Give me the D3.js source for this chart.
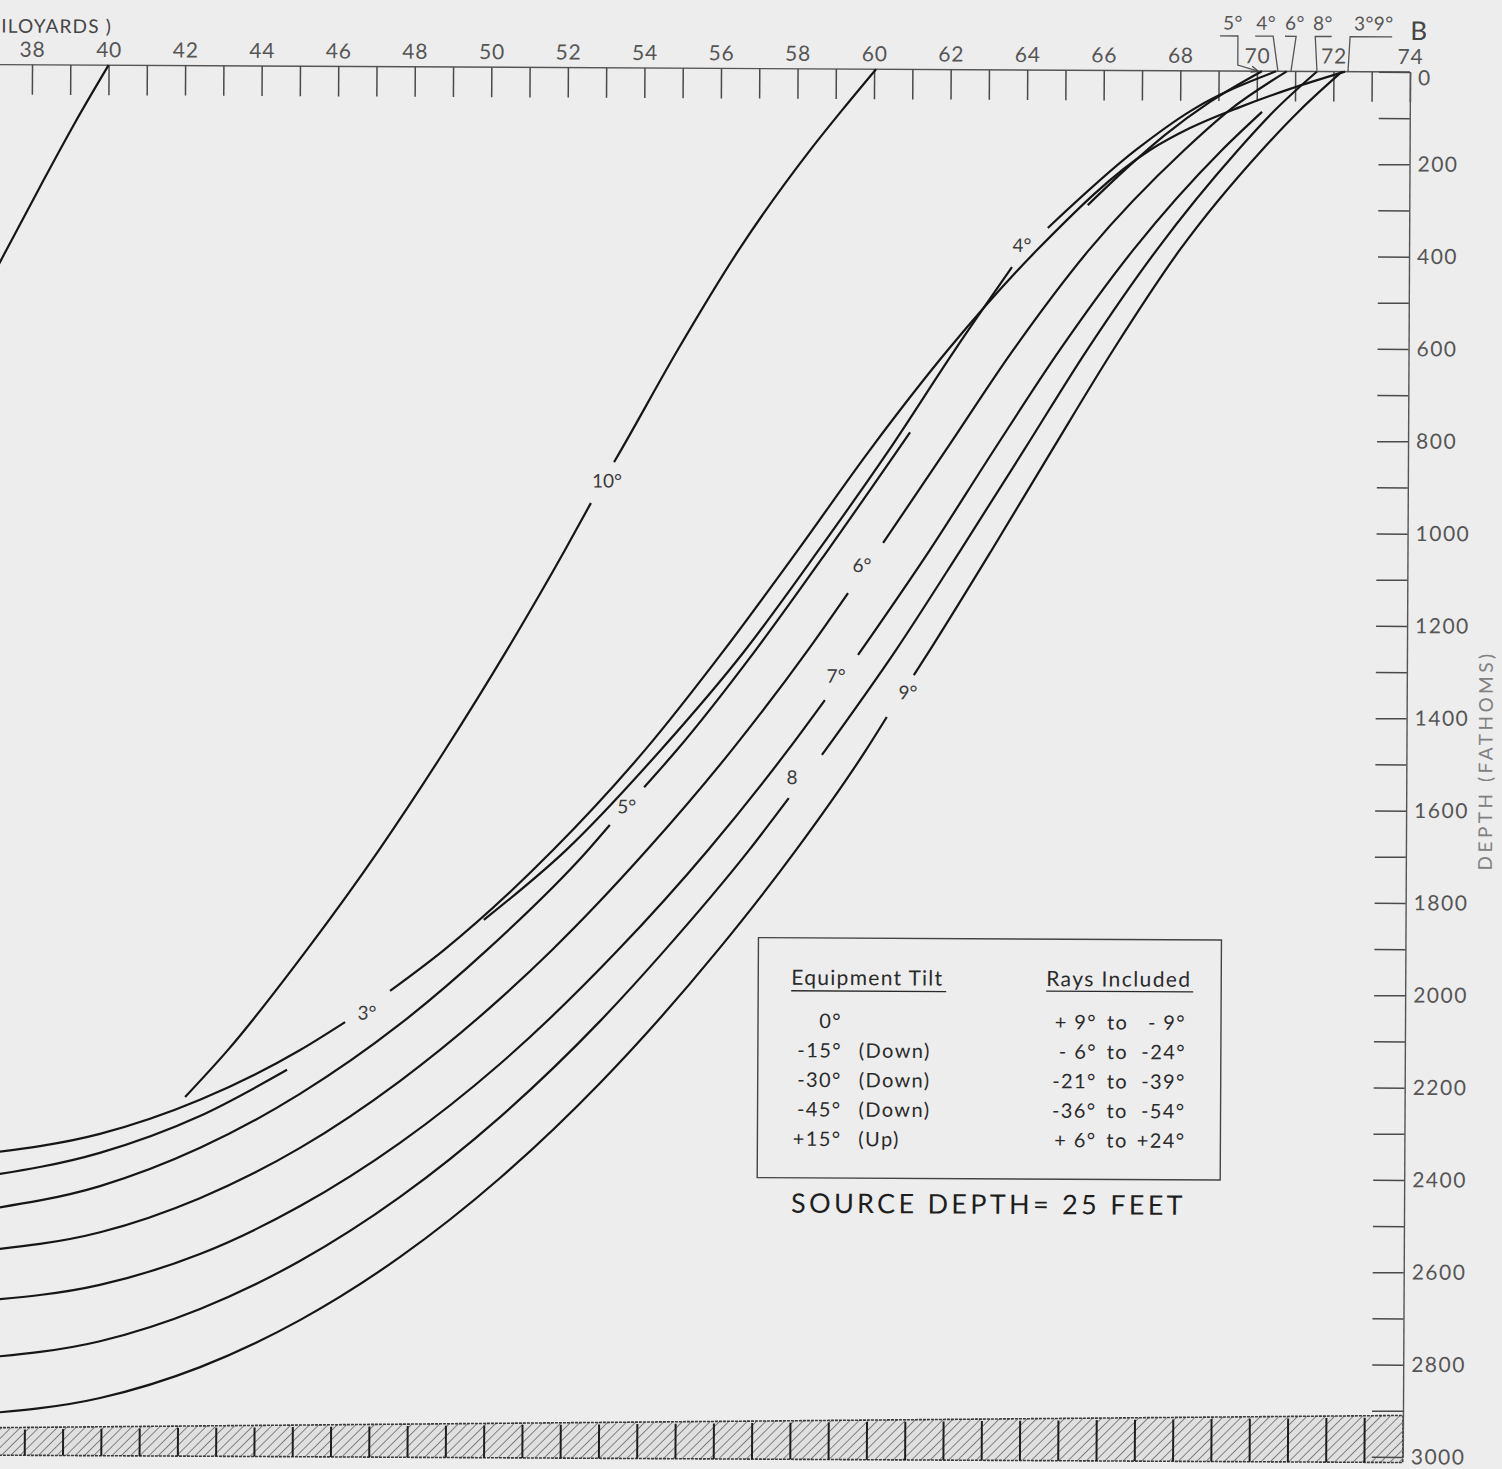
<!DOCTYPE html>
<html>
<head>
<meta charset="utf-8">
<script src="https://cdn.jsdelivr.net/npm/d3@7"></script>
<style>
body { margin: 0; background: #ededed; }
svg { display: block; }
text { font-family: Lato, "DejaVu Sans", sans-serif; }
</style>
</head>
<body>
<script>
//axis ticks
var kydTicks = d3.range(38, 75);            //range, kiloyards
var depthTicks = d3.range(0, 3001, 100);    //depth, fathoms

//ray segments as [range kyd, depth fathoms], gaps left where labels sit
var ray40 = [[40.0,0],[39.13,125],[38.22,265],[37.27,415],[36.93,470]];
var ray10Upper = [[60.05,0],[59.17,89],[58.34,176],[56.49,393],[54.91,610],[53.44,828],[53.26,854]];
var ray10Lower = [[52.66,943],[51.99,1045],[50.49,1262],[48.88,1480],[47.17,1697],[45.30,1914],[43.25,2132],[42.14,2234]];
var ray3Lower = [[36.79,2360],[39.92,2315],[42.53,2240],[45.14,2131],[46.31,2070]];
var ray3Upper = [[47.48,2002],[48.88,1913],[51.72,1695],[54.11,1477],[56.16,1260],[58.08,1042],[59.94,825],[61.97,607],[64.28,390],[67.22,172],[68.26,124],[69.56,78],[70.87,38],[72.30,0]];
var ray4Lower = [[36.79,2410],[39.92,2356],[42.53,2275],[44.80,2174]];
var ray4Mid = [[49.92,1847],[52.06,1695],[54.52,1477],[56.71,1260],[58.62,1042],[60.44,825],[62.15,607],[63.63,427]];
var ray4Upper = [[64.56,342],[66.85,172],[68.31,85],[70.50,0]];
var ray5Lower = [[36.80,2482],[39.93,2428],[42.54,2344],[45.14,2226],[47.74,2074],[50.01,1912],[52.63,1695],[53.20,1640]];
var ray5Mid = [[54.09,1558],[54.94,1477],[56.99,1259],[58.86,1042],[60.99,786]];
var ray5Upper = [[65.60,292],[66.70,205],[67.61,139],[68.78,67],[70.13,0]];
var ray6Lower = [[36.80,2570],[39.94,2528],[42.54,2453],[45.15,2343],[47.75,2197],[50.35,2018],[51.70,1912],[54.17,1694],[56.38,1476],[58.35,1259],[59.39,1135]];
var ray6Upper = [[60.30,1026],[61.93,824],[63.67,607],[65.64,389],[68.11,172],[69.30,84],[70.78,0]];
var ray7Lower = [[36.81,2678],[39.94,2642],[42.55,2574],[45.16,2469],[47.76,2331],[50.36,2159],[53.43,1911],[55.77,1693],[57.84,1476],[58.80,1367]];
var ray7Upper = [[59.66,1269],[61.52,1041],[63.18,824],[64.89,606],[66.79,389],[69.10,171],[70.14,88]];
var ray8Lower = [[36.82,2802],[39.95,2764],[42.56,2693],[45.16,2588],[47.77,2448],[50.37,2274],[52.97,2065],[54.66,1910],[56.84,1693],[57.87,1580]];
var ray8Upper = [[58.73,1486],[60.65,1258],[62.33,1040],[63.97,823],[65.60,606],[67.41,388],[69.52,171],[70.48,84],[71.57,0]];
var ray9Lower = [[36.83,2923],[39.96,2887],[42.57,2819],[45.17,2716],[47.78,2578],[50.38,2406],[52.98,2199],[56.04,1910],[58.07,1692],[59.88,1475],[60.42,1403]];
var ray9Upper = [[61.12,1312],[61.54,1257],[63.14,1040],[64.70,823],[66.28,606],[68.01,388],[70.14,171],[71.13,84],[72.22,0]];

var raySegments = [ray40, ray10Upper, ray10Lower, ray3Lower, ray3Upper, ray4Lower, ray4Mid, ray4Upper,
	ray5Lower, ray5Mid, ray5Upper, ray6Lower, ray6Upper, ray7Lower, ray7Upper,
	ray8Lower, ray8Upper, ray9Lower, ray9Upper];

//ray angle labels in the gaps
var rayLabels = ["10°", "3°", "5°", "8", "7°", "9°", "6°", "4°"];
var rayLabelKyd = [53.08, 46.88, 53.64, 57.95, 59.09, 60.97, 59.75, 63.89];
var rayLabelDepth = [895, 2050, 1600, 1535, 1315, 1350, 1075, 380];

//surface arrival labels above the range scale
var arrivalLabels = ["5°", "4°", "6°", "8°", "3°9°"];
var arrivalLabelKyd = [69.37, 70.24, 70.99, 71.72, 73.05];
var arrivalLeaders = [
	[[69.03,-76],[69.50,-76],[69.50,-13],[70.03,0]],
	[[69.95,-76],[70.42,-76],[70.55,0]],
	[[70.73,-76],[71.02,-76],[70.89,0]],
	[[71.95,-76],[71.52,-76],[71.57,0]],
	[[73.53,-76],[72.43,-76],[72.38,0]]
];

//ocean bottom
var bottomKyd = [36.8, 74];
var bottomDepth = [2953, 2910];

//legend table
var tiltAngles = ["0°", "-15°", "-30°", "-45°", "+15°"];
var tiltDirs = ["", "(Down)", "(Down)", "(Down)", "(Up)"];
var rayFrom = ["+ 9°", "- 6°", "-21°", "-36°", "+ 6°"];
var rayTo = ["- 9°", "-24°", "-39°", "-54°", "+24°"];

var width = 1502, height = 1469;

var svg = d3.select("body").append("svg")
	.attr("width", width)
	.attr("height", height);

svg.append("rect").attr("width", width).attr("height", height).attr("fill", "#ededed");

var defs = svg.append("defs");

//hatch for the bottom
var pat = defs.append("pattern")
	.attr("id", "hatch")
	.attr("patternUnits", "userSpaceOnUse")
	.attr("width", 6.5).attr("height", 6.5)
	.attr("patternTransform", "rotate(45)");
pat.append("rect").attr("width", 6.5).attr("height", 6.5).attr("fill", "#e0e0e0");
pat.append("line").attr("x1", 0).attr("y1", 0).attr("x2", 0).attr("y2", 6.5)
	.attr("stroke", "#6a6a6a").attr("stroke-width", 1.6);

defs.append("marker")
	.attr("id", "arrow")
	.attr("viewBox", "0 0 10 10")
	.attr("refX", 9).attr("refY", 5)
	.attr("markerWidth", 6).attr("markerHeight", 6)
	.attr("orient", "auto")
	.append("path")
	.attr("d", "M0,1L10,5L0,9")
	.attr("fill", "none")
	.attr("stroke", "#444")
	.attr("stroke-width", 1.5);

var x = d3.scaleLinear().domain([38, 74]).range([32, 1410]);
var y = d3.scaleLinear().domain([0, 3000]).range([72, 1457]);

//whole sheet sits slightly tilted in the photo
var chart = svg.append("g").attr("transform", "rotate(0.3,1410,72)");

//bottom band
var bottomTop = bottomKyd.map(function(k, i){ return [x(k), y(bottomDepth[i])]; });
var band = bottomTop.concat([[x(74), y(3012)], [x(36.8), y(3012)]]);
chart.append("path")
	.attr("d", "M" + band.join("L") + "Z")
	.attr("fill", "url(#hatch)")
	.attr("stroke", "#3a3a3a")
	.attr("stroke-width", 1.6)
	.attr("stroke-dasharray", "3,1");

var bottomAt = d3.scaleLinear().domain(bottomKyd).range(bottomDepth);
chart.selectAll(".bottomTick")
	.data(d3.range(38, 74))
	.enter()
	.append("line")
	.attr("class", "bottomTick")
	.attr("x1", function(d){ return x(d); })
	.attr("x2", function(d){ return x(d); })
	.attr("y1", function(d){ return y(bottomAt(d)) + 2; })
	.attr("y2", y(3012))
	.attr("stroke", "#1e1e1e")
	.attr("stroke-width", 2);

//range scale on top
chart.append("line")
	.attr("x1", x(36.8)).attr("x2", x(74))
	.attr("y1", y(0)).attr("y2", y(0))
	.attr("stroke", "#555").attr("stroke-width", 1.4);

var topAxis = chart.append("g")
	.attr("transform", "translate(0," + y(0) + ")")
	.call(d3.axisTop(x)
		.tickValues(kydTicks)
		.tickSize(-30)
		.tickSizeOuter(0)
		.tickPadding(8)
		.tickFormat(function(d){ return d % 2 == 0 ? d : ""; }));
topAxis.select(".domain").remove();
topAxis.selectAll("line").attr("stroke", "#4a4a4a").attr("stroke-width", 1.5);
topAxis.selectAll("text")
	.attr("font-family", "Lato, 'DejaVu Sans', sans-serif")
	.attr("font-size", 21)
	.attr("letter-spacing", 0.8)
	.attr("fill", "#555");

//depth scale on the right
var rightAxis = chart.append("g")
	.attr("transform", "translate(" + x(74) + ",0)")
	.call(d3.axisRight(y)
		.tickValues(depthTicks)
		.tickSize(-31)
		.tickSizeOuter(0)
		.tickPadding(8)
		.tickFormat(function(d){ return d % 200 == 0 ? d : ""; }));
rightAxis.select(".domain").attr("stroke", "#555").attr("stroke-width", 1.4);
rightAxis.selectAll("line").attr("stroke", "#4a4a4a").attr("stroke-width", 1.5);
rightAxis.selectAll("text")
	.attr("font-family", "Lato, 'DejaVu Sans', sans-serif")
	.attr("font-size", 21)
	.attr("letter-spacing", 1.5)
	.attr("fill", "#555");
rightAxis.selectAll(".tick").filter(function(d){ return d == 0; }).select("text").attr("dy", "0.6em");

chart.append("text")
	.attr("transform", "translate(1496,760) rotate(-90)")
	.attr("text-anchor", "middle")
	.attr("font-size", 19)
	.attr("letter-spacing", 3.5)
	.attr("fill", "#808080")
	.text("DEPTH  (FATHOMS)");

chart.append("text")
	.attr("x", 1).attr("y", 40)
	.attr("font-size", 19)
	.attr("letter-spacing", 1.2)
	.attr("fill", "#444")
	.text("ILOYARDS )");

chart.append("text")
	.attr("x", 1410).attr("y", 40)
	.attr("font-size", 26)
	.attr("fill", "#444")
	.text("B");

//rays, drawn left to right
var line = d3.line()
	.x(function(d){ return x(d[0]); })
	.y(function(d){ return y(d[1]); })
	.curve(d3.curveMonotoneX);

chart.selectAll(".ray")
	.data(raySegments)
	.enter()
	.append("path")
	.attr("class", "ray")
	.attr("d", function(d){
		return line(d.slice().sort(function(a, b){ return a[0] - b[0]; }));
	})
	.attr("fill", "none")
	.attr("stroke", "#161616")
	.attr("stroke-width", 2.2);

chart.selectAll(".rayLabel")
	.data(rayLabels)
	.enter()
	.append("text")
	.attr("class", "rayLabel")
	.attr("x", function(d, i){ return x(rayLabelKyd[i]); })
	.attr("y", function(d, i){ return y(rayLabelDepth[i]); })
	.attr("dy", "0.35em")
	.attr("text-anchor", "middle")
	.attr("font-size", 19)
	.attr("fill", "#3a3a3a")
	.text(function(d){ return d; });

//arrival annotations
chart.selectAll(".arrivalLabel")
	.data(arrivalLabels)
	.enter()
	.append("text")
	.attr("class", "arrivalLabel")
	.attr("x", function(d, i){ return x(arrivalLabelKyd[i]); })
	.attr("y", y(-90))
	.attr("text-anchor", "middle")
	.attr("font-size", 19)
	.attr("letter-spacing", 0.5)
	.attr("fill", "#555")
	.text(function(d){ return d; });

var leader = d3.line()
	.x(function(d){ return x(d[0]); })
	.y(function(d){ return y(d[1]); });

chart.selectAll(".leader")
	.data(arrivalLeaders)
	.enter()
	.append("path")
	.attr("class", "leader")
	.attr("d", leader)
	.attr("fill", "none")
	.attr("stroke", "#555")
	.attr("stroke-width", 1.3)
	.attr("marker-end", function(d, i){ return i == 0 ? "url(#arrow)" : null; });

//legend
var legend = chart.append("g");
legend.append("rect")
	.attr("x", 763).attr("y", 941)
	.attr("width", 463).attr("height", 240)
	.attr("fill", "none")
	.attr("stroke", "#444")
	.attr("stroke-width", 1.4);

legend.append("text").attr("x", 796).attr("y", 988)
	.attr("font-size", 21).attr("letter-spacing", 1.3).attr("fill", "#2a2a2a").text("Equipment Tilt");
legend.append("line").attr("x1", 796).attr("x2", 951).attr("y1", 994).attr("y2", 994)
	.attr("stroke", "#2a2a2a").attr("stroke-width", 1.4);
legend.append("text").attr("x", 1051).attr("y", 988)
	.attr("font-size", 21).attr("letter-spacing", 1.4).attr("fill", "#2a2a2a").text("Rays Included");
legend.append("line").attr("x1", 1051).attr("x2", 1198).attr("y1", 993).attr("y2", 993)
	.attr("stroke", "#2a2a2a").attr("stroke-width", 1.4);

var rows = legend.selectAll(".row")
	.data(tiltAngles)
	.enter()
	.append("g")
	.attr("class", "row")
	.attr("transform", function(d, i){ return "translate(0," + (1031 + i * 29.5) + ")"; })
	.attr("font-size", 20)
	.attr("letter-spacing", 1.4)
	.attr("fill", "#2a2a2a");
rows.append("text").attr("x", 847).attr("text-anchor", "end").text(function(d){ return d; });
rows.append("text").attr("x", 864).text(function(d, i){ return tiltDirs[i]; });
rows.append("text").attr("x", 1102).attr("text-anchor", "end").style("white-space", "pre")
	.text(function(d, i){ return rayFrom[i]; });
rows.append("text").attr("x", 1112).text("to");
rows.append("text").attr("x", 1191).attr("text-anchor", "end").style("white-space", "pre")
	.text(function(d, i){ return rayTo[i]; });

legend.append("text").attr("x", 797).attr("y", 1216)
	.attr("font-size", 27)
	.attr("letter-spacing", 3.3)
	.attr("fill", "#1e1e1e")
	.text("SOURCE DEPTH= 25 FEET");
</script>
</body>
</html>
